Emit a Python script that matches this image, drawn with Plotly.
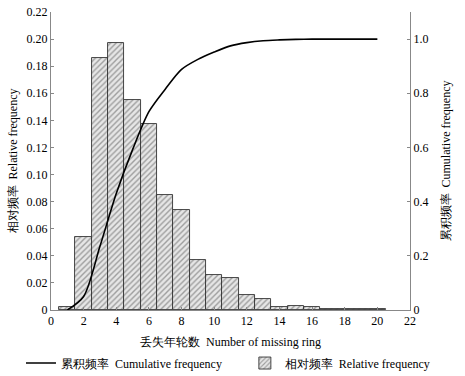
import plotly.graph_objects as go

# Data
ring_counts = list(range(1, 21))
relative_freq = [0.0025, 0.054, 0.186, 0.197, 0.155, 0.137, 0.085, 0.074, 0.037, 0.026,
                 0.0235, 0.011, 0.008, 0.0025, 0.003, 0.0022, 0.0007, 0.0005, 0.0005, 0.0004]
cumulative_freq = [0.0, 0.05, 0.235, 0.43, 0.592, 0.732, 0.815, 0.888, 0.925, 0.952,
                   0.975, 0.987, 0.994, 0.997, 0.999, 1.0, 1.0, 1.0, 1.0, 1.0]

x_ticks = list(range(0, 23, 2))
y_left_ticks = [0, 0.02, 0.04, 0.06, 0.08, 0.10, 0.12, 0.14, 0.16, 0.18, 0.20, 0.22]
y_left_text = ["0", "0.02", "0.04", "0.06", "0.08", "0.10", "0.12", "0.14", "0.16", "0.18", "0.20", "0.22"]
y_right_ticks = [0, 0.2, 0.4, 0.6, 0.8, 1.0]
y_right_text = ["0", "0.2", "0.4", "0.6", "0.8", "1.0"]

FONT = "Liberation Serif"
SP = "\u00a0\u00a0"

fig = go.Figure()
fig.add_trace(go.Bar(
    x=ring_counts, y=relative_freq, width=1.0,
    name="相对频率" + SP + "Relative frequency",
    marker=dict(color="#d8d8d8",
                line=dict(color="#333333", width=0.9),
                pattern=dict(shape="/", fgcolor="#555555", bgcolor="#e6e6e6", size=4, solidity=0.35)),
    yaxis="y", legend="legend2",
))
fig.add_trace(go.Scatter(
    x=ring_counts, y=cumulative_freq, mode="lines",
    line=dict(color="black", width=1.6, shape="spline", smoothing=0.8),
    name="累积频率" + SP + "Cumulative frequency",
    yaxis="y2", legend="legend",
))

axis_common = dict(showgrid=False, zeroline=False, showline=True, linecolor="#888888", linewidth=1,
                   ticks="inside", ticklen=3, tickcolor="#888888",
                   tickfont=dict(family=FONT, size=12, color="black"))

legend_common = dict(orientation="h", xanchor="left", y=-0.178, yanchor="middle",
                     font=dict(family=FONT, size=12), itemwidth=30,
                     bgcolor="rgba(0,0,0,0)")

fig.update_layout(
    width=465, height=376,
    margin=dict(l=51, r=55, t=12, b=66, autoexpand=False),
    paper_bgcolor="white", plot_bgcolor="white",
    font=dict(family=FONT, size=12, color="black"),
    bargap=0,
    xaxis=dict(range=[0, 22], tickvals=x_ticks, ticktext=[str(v) for v in x_ticks],
               title=dict(text="丢失年轮数" + SP + "Number of missing ring", standoff=10,
                          font=dict(family=FONT, size=12)),
               **axis_common),
    yaxis=dict(range=[0, 0.22], tickvals=y_left_ticks, ticktext=y_left_text,
               title=dict(text="相对频率" + SP + "Relative frequency", standoff=6,
                          font=dict(family=FONT, size=12)),
               **axis_common),
    yaxis2=dict(range=[0, 1.1], tickvals=y_right_ticks, ticktext=y_right_text,
                overlaying="y", side="right",
                title=dict(text="累积频率" + SP + "Cumulative frequency", standoff=14,
                           font=dict(family=FONT, size=12)),
                **axis_common),
    legend=dict(x=-0.0836, **legend_common),
    legend2=dict(x=0.540, **legend_common),
    showlegend=True,
)

fig.write_html("out.html", config={"displayModeBar": False},
               post_script="document.body.style.margin='0';")
